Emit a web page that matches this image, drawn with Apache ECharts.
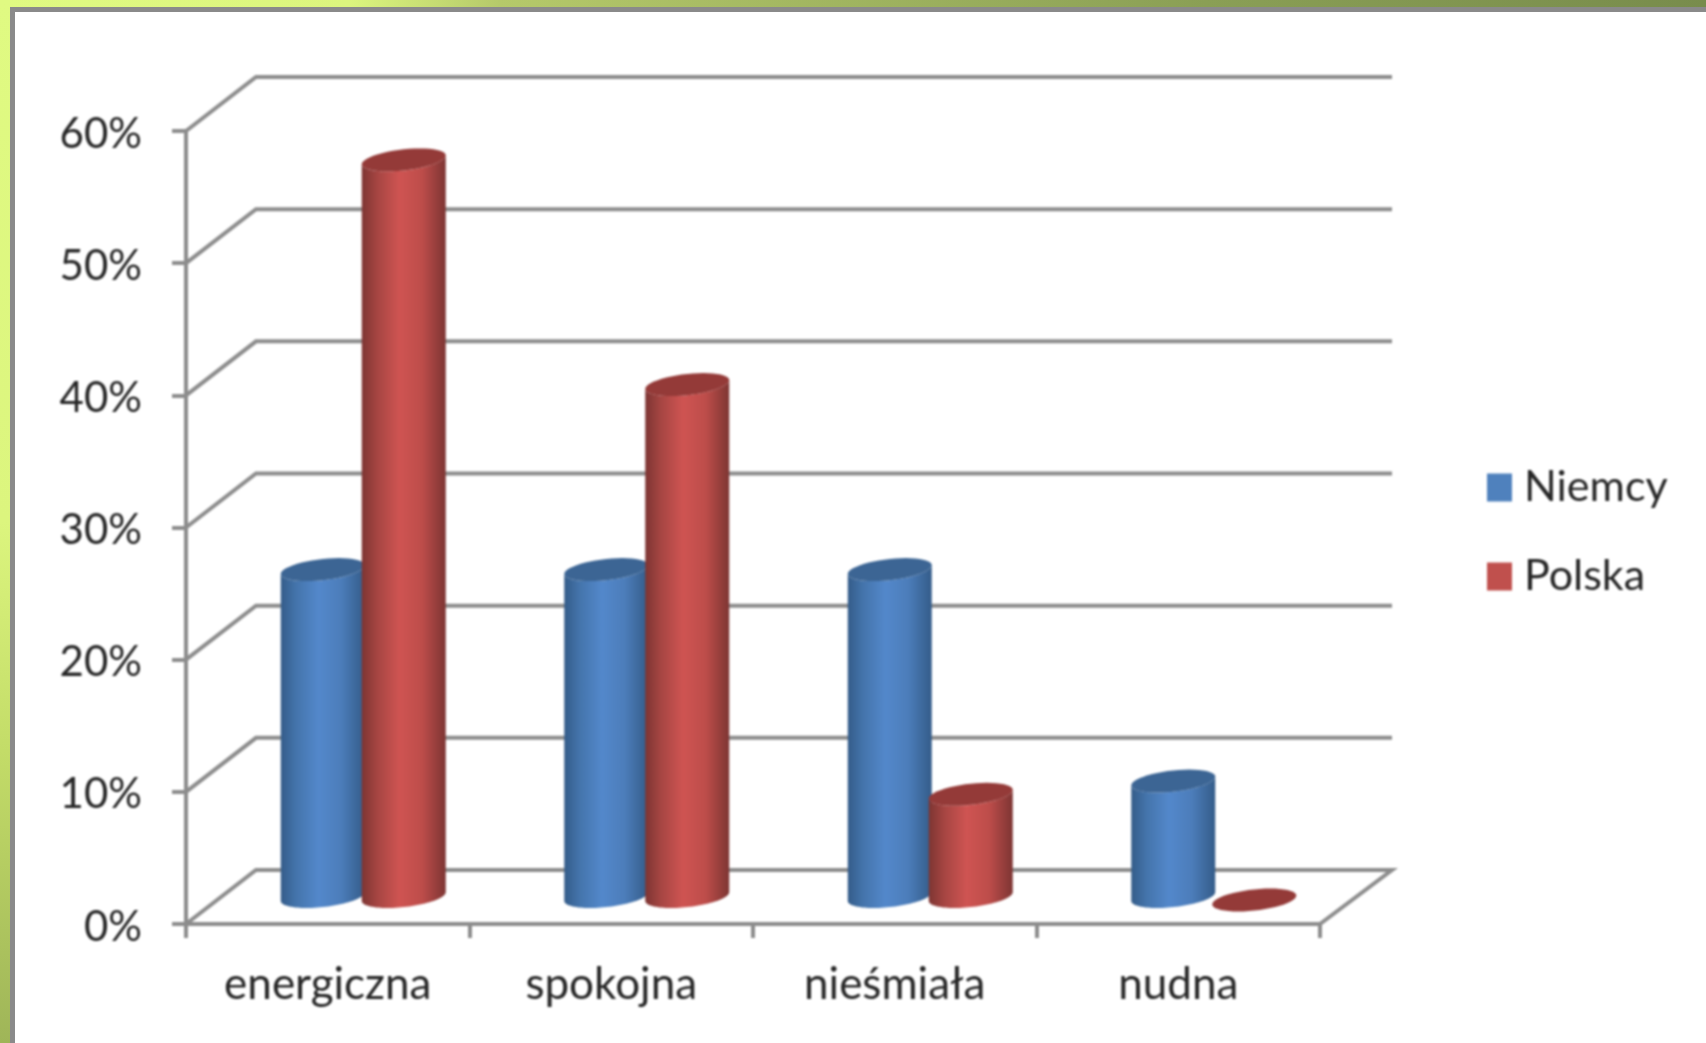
<!DOCTYPE html>
<html>
<head>
<meta charset="utf-8">
<style>
html,body{margin:0;padding:0;width:1706px;height:1043px;overflow:hidden}
#bgv{position:absolute;left:0;top:0;width:1706px;height:1043px;background:linear-gradient(90deg,#e0fa82 0px,#dcf57e 350px,#b5c96a 500px,#8a9f55 1206px,#788c4c 1706px)}
#bgl{position:absolute;left:0;top:0;width:10px;height:1043px;background:linear-gradient(180deg,#e0fa82 0%,#dcf57e 50%,#c3dc68 72%,#9fb558 100%)}
#panel{position:absolute;left:10px;top:7px;width:1696px;height:1036px;background:#fff;border-left:5px solid #8a8a8a;border-top:5px solid #8a8a8a;box-sizing:border-box}
#chart{position:absolute;left:0;top:0;width:1706px;height:1043px;filter:blur(0.8px)}
</style>
<script src="https://cdn.jsdelivr.net/npm/echarts@6/dist/echarts.min.js"></script>
</head>
<body>
<div id="bgv"></div><div id="bgl"></div><div id="panel"></div>
<div id="chart"></div>
<script>
const categories = ['energiczna', 'spokojna', 'nieśmiała', 'nudna'];
const niemcy = [25, 25, 25, 9];
const polska = [56, 39, 8, 0];
const yTicks = [0, 10, 20, 30, 40, 50, 60];

const DEPTH_X = 70, DEPTH_Y = 54, RX = 42, RY = 10.6, SHEAR = 0.105, BACK_EXTRA = 2;
const LINE = '#8c8c8c', FONT = 'Lato', TXT = '#262626';

function grad(stops) {
  return new echarts.graphic.LinearGradient(0, 0, 1, 0,
    stops.map((c, i) => ({offset: [0, .18, .45, .72, 1][i], color: c})));
}
function ell(cx, cy, from, to) {
  const pts = [];
  for (let k = 0; k <= 48; k++) {
    const t = from + (to - from) * k / 48, dx = RX * Math.cos(t);
    pts.push([cx + dx, cy + RY * Math.sin(t) - SHEAR * dx]);
  }
  return pts;
}
function cylinder(xShift, body, topColor) {
  return function (params, api) {
    const i = api.value(0), v = api.value(1);
    const top = api.coord([i, v]), base = api.coord([i, 0]);
    const cx = top[0] + DEPTH_X / 2 + xShift;
    const by = base[1] - DEPTH_Y / 2 - 0.5, ty = top[1] - DEPTH_Y / 2 + 3;
    const children = [];
    if (v > 0) {
      const pts = ell(cx, by, 0, Math.PI).concat(ell(cx, ty, Math.PI, 0));
      children.push({type: 'polygon', shape: {points: pts}, style: {fill: grad(body)}});
    }
    children.push({type: 'polygon', shape: {points: ell(cx, ty, 0, 2 * Math.PI)}, style: {fill: topColor}});
    return {type: 'group', children};
  };
}
function wallLine(params, api) {
  const t = api.value(1), cs = params.coordSys, fy = api.coord([0, t])[1];
  const fx = cs.x, rx = cs.x + cs.width;
  const backR = [rx + DEPTH_X + BACK_EXTRA, fy - DEPTH_Y];
  const pts = t === 0
    ? [[fx, fy], [fx + DEPTH_X, fy - DEPTH_Y], backR, [rx, fy]]
    : [[fx, fy], [fx + DEPTH_X, fy - DEPTH_Y], backR];
  return {type: 'polyline', shape: {points: pts}, style: {stroke: LINE, lineWidth: 4, fill: null}};
}

const chart = echarts.init(document.getElementById('chart'), null, {renderer: 'canvas'});
chart.setOption({
  backgroundColor: 'transparent',
  animation: false,
  grid: {left: 186, top: 131, width: 1134, height: 793},
  xAxis: {
    type: 'category', data: categories, boundaryGap: true,
    axisLine: {lineStyle: {color: LINE, width: 4}},
    axisTick: {show: true, length: 14, lineStyle: {color: LINE, width: 4}},
    axisLabel: {fontFamily: FONT, fontSize: 44, color: TXT, margin: 39}
  },
  yAxis: {
    type: 'value', min: 0, max: 60, interval: 10,
    axisLine: {show: true, lineStyle: {color: LINE, width: 4}},
    axisTick: {show: true, length: 14, lineStyle: {color: LINE, width: 4}},
    splitLine: {show: false},
    axisLabel: {formatter: '{value}%', fontFamily: FONT, fontSize: 42, color: TXT, margin: 44, verticalAlign: 'top', lineHeight: 6}
  },
  legend: {
    orient: 'vertical', left: 1487, top: 466, padding: 0, data: ['Niemcy', 'Polska'],
    icon: 'rect', itemWidth: 25, itemHeight: 28, itemGap: 46,
    textStyle: {fontFamily: FONT, fontSize: 43, color: TXT, padding: [0, 0, 0, 7]}
  },
  series: [
    {type: 'custom', name: 'walls', silent: true, clip: false, z: 1,
     data: yTicks.map(t => [0, t]), renderItem: wallLine, encode: {x: 0, y: 1}},
    {type: 'custom', name: 'Niemcy', clip: false, z: 2, itemStyle: {color: '#4f81bd'},
     data: niemcy.map((v, i) => [i, v]), encode: {x: 0, y: 1},
     renderItem: cylinder(-40, ['#345c89', '#4474ab', '#5388cb', '#4c7dba', '#345c89'], '#3c6594')},
    {type: 'custom', name: 'Polska', clip: false, z: 3, itemStyle: {color: '#c0504d'},
     data: polska.map((v, i) => [i, v]), encode: {x: 0, y: 1},
     renderItem: cylinder(41, ['#7d3533', '#a54542', '#cf5452', '#bd4d4a', '#7d3533'], '#943a38')}
  ]
});
</script>
</body>
</html>
